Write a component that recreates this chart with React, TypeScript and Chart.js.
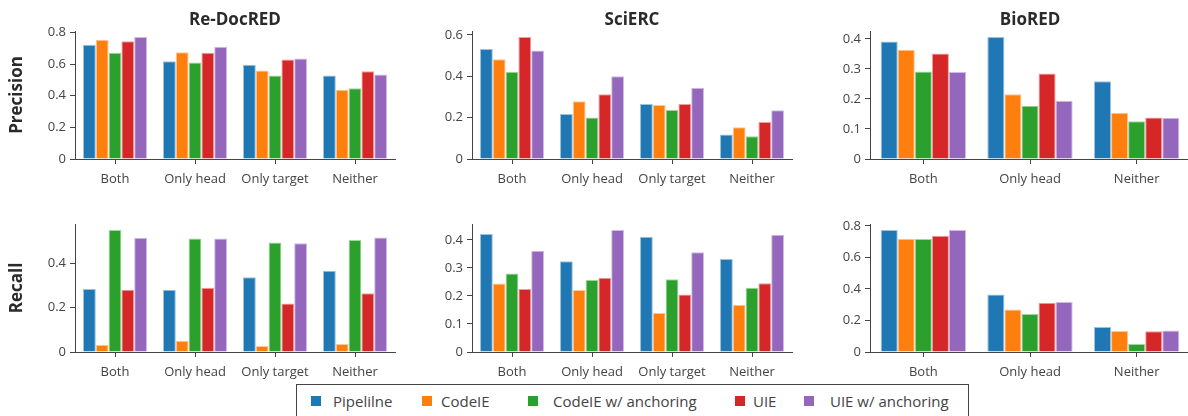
import React, { useEffect, useRef } from 'react';
import { Chart, registerables } from 'chart.js';

Chart.register(...registerables);

// ---------- data ----------
const seriesNames = ['Pipelilne', 'CodeIE', 'CodeIE w/ anchoring', 'UIE', 'UIE w/ anchoring'];
const seriesColors = ['#1f77b4', '#ff7f0e', '#2ca02c', '#d62728', '#9467bd'];

const categoriesFour = ['Both', 'Only head', 'Only target', 'Neither'];
const categoriesThree = ['Both', 'Only head', 'Neither'];

const datasetTitles = ['Re-DocRED', 'SciERC', 'BioRED'];
const metricTitles = ['Precision', 'Recall'];

// rows: series (Pipelilne, CodeIE, CodeIE w/ anchoring, UIE, UIE w/ anchoring); columns: categories
const reDocRedPrecision = [
  [0.722, 0.618, 0.595, 0.528],
  [0.754, 0.675, 0.559, 0.437],
  [0.671, 0.610, 0.528, 0.447],
  [0.743, 0.671, 0.629, 0.555],
  [0.770, 0.709, 0.635, 0.534],
];
const sciErcPrecision = [
  [0.532, 0.218, 0.266, 0.118],
  [0.482, 0.279, 0.261, 0.153],
  [0.421, 0.200, 0.237, 0.110],
  [0.589, 0.313, 0.266, 0.179],
  [0.524, 0.400, 0.344, 0.235],
];
const bioRedPrecision = [
  [0.391, 0.406, 0.259],
  [0.364, 0.216, 0.154],
  [0.291, 0.177, 0.126],
  [0.351, 0.285, 0.138],
  [0.290, 0.194, 0.137],
];
const reDocRedRecall = [
  [0.285, 0.281, 0.338, 0.367],
  [0.032, 0.051, 0.027, 0.036],
  [0.551, 0.513, 0.495, 0.506],
  [0.281, 0.290, 0.219, 0.266],
  [0.516, 0.513, 0.491, 0.518],
];
const sciErcRecall = [
  [0.421, 0.324, 0.411, 0.332],
  [0.244, 0.221, 0.139, 0.169],
  [0.280, 0.257, 0.260, 0.229],
  [0.225, 0.265, 0.205, 0.245],
  [0.361, 0.435, 0.356, 0.418],
];
const bioRedRecall = [
  [0.773, 0.365, 0.158],
  [0.718, 0.270, 0.133],
  [0.716, 0.241, 0.051],
  [0.737, 0.312, 0.131],
  [0.773, 0.317, 0.137],
];

const yTickSteps = [
  [0.2, 0.2, 0.1],
  [0.2, 0.1, 0.2],
];

// ---------- layout ----------
const COL_LEFT = [75, 472, 870];
const ROW_TOP = [31, 224];
const PLOT_W = 320;
const PLOT_H = 128;
const Y_AXIS_W = 75;
const X_AXIS_H = 30;
const PAD_R = 4;
const CANVAS_W = Y_AXIS_W + PLOT_W + PAD_R;
const CANVAS_H = 31 + PLOT_H + X_AXIS_H;

const AXIS_COLOR = '#444';
const TEXT_COLOR = '#444';
const TITLE_COLOR = '#2a2a2a';
const FONT = "'Open Sans', sans-serif";
const TITLE_SIZE = 17;

Chart.defaults.font.family = FONT;

function tint(hex: string, f: number) {
  const n = parseInt(hex.slice(1), 16);
  const r = (n >> 16) & 255, g = (n >> 8) & 255, b = n & 255;
  const m = (c: number) => Math.round(c + (255 - c) * f);
  return `rgb(${m(r)},${m(g)},${m(b)})`;
}

const panels = [
  { row: 0, col: 0, categories: categoriesFour, values: reDocRedPrecision },
  { row: 0, col: 1, categories: categoriesFour, values: sciErcPrecision },
  { row: 0, col: 2, categories: categoriesThree, values: bioRedPrecision },
  { row: 1, col: 0, categories: categoriesFour, values: reDocRedRecall },
  { row: 1, col: 1, categories: categoriesFour, values: sciErcRecall },
  { row: 1, col: 2, categories: categoriesThree, values: bioRedRecall },
];

function makeConfig(p: typeof panels[number]): any {
  const maxVal = Math.max(...p.values.flat());
  const step = yTickSteps[p.row][p.col];
  const hasTitle = p.row === 0;
  const titleLine = TITLE_SIZE * 1.2;
  return {
    type: 'bar',
    data: {
      labels: p.categories,
      datasets: p.values.map((vals, i) => ({
        label: seriesNames[i],
        data: vals,
        backgroundColor: seriesColors[i],
        borderColor: tint(seriesColors[i], 0.55),
        borderWidth: 1,
        barPercentage: 1,
        categoryPercentage: 0.8,
      })),
    },
    options: {
      responsive: false,
      animation: false,
      devicePixelRatio: 1,
      layout: { padding: { top: hasTitle ? 0 : 31, right: PAD_R, bottom: 0, left: 0 } },
      plugins: {
        legend: { display: false },
        tooltip: { enabled: false },
        title: {
          display: hasTitle,
          fullSize: false,
          text: datasetTitles[p.col],
          color: TITLE_COLOR,
          font: { family: FONT, size: TITLE_SIZE, weight: 'bold', lineHeight: 1.2 },
          padding: { top: 10, bottom: 31 - 10 - titleLine },
        },
      },
      scales: {
        x: {
          ticks: { color: TEXT_COLOR, font: { family: FONT, size: 13 }, padding: 7, autoSkip: false, maxRotation: 0 },
          grid: { drawOnChartArea: false, offset: false, tickLength: 5, color: AXIS_COLOR },
          border: { display: true, color: AXIS_COLOR, width: 1 },
          afterFit: (s: any) => { s.height = X_AXIS_H; },
        },
        y: {
          min: 0,
          max: maxVal * 1.05,
          ticks: {
            stepSize: step,
            includeBounds: false,
            color: TEXT_COLOR,
            font: { family: FONT, size: 13 },
            padding: 4,
            callback: (v: number) => (Math.abs(v) < 1e-9 ? '0' : v.toFixed(1)),
          },
          grid: { drawOnChartArea: false, tickLength: 5, color: AXIS_COLOR },
          border: { display: true, color: AXIS_COLOR, width: 1 },
          title: {
            display: p.col === 0,
            text: metricTitles[p.row],
            color: TITLE_COLOR,
            font: { family: FONT, size: TITLE_SIZE, weight: 'bold', lineHeight: 1.2 },
            padding: { top: 17.5 - titleLine / 2, bottom: 0 },
          },
          afterFit: (s: any) => { s.width = Y_AXIS_W; },
        },
      },
    },
  };
}

// legend geometry (page coordinates)
const LEGEND_BOX = { left: 296, top: 384, width: 673, height: 40 };
const legendSquareLeft = [311, 422, 528, 735, 804];
const legendTextLeft = [333, 441, 553, 753, 830];

export default function App() {
  const refs = useRef<(HTMLCanvasElement | null)[]>([]);

  useEffect(() => {
    const charts = panels.map((p, i) => new Chart(refs.current[i] as HTMLCanvasElement, makeConfig(p)));
    return () => charts.forEach((c) => c.destroy());
  }, []);

  return (
    <div
      style={{
        position: 'absolute',
        left: 0,
        top: 0,
        width: 1188,
        height: 416,
        overflow: 'hidden',
        background: '#fff',
        fontFamily: FONT,
      }}
    >
      {panels.map((p, i) => (
        <canvas
          key={i}
          ref={(el) => { refs.current[i] = el; }}
          width={CANVAS_W}
          height={CANVAS_H}
          style={{
            position: 'absolute',
            left: COL_LEFT[p.col] - Y_AXIS_W,
            top: ROW_TOP[p.row] - 31,
            width: CANVAS_W,
            height: CANVAS_H,
          }}
        />
      ))}
      <div
        style={{
          position: 'absolute',
          left: LEGEND_BOX.left,
          top: LEGEND_BOX.top,
          width: LEGEND_BOX.width,
          height: LEGEND_BOX.height,
          border: `1px solid ${AXIS_COLOR}`,
          boxSizing: 'border-box',
        }}
      />
      {seriesNames.map((name, i) => (
        <React.Fragment key={name}>
          <div
            style={{
              position: 'absolute',
              left: legendSquareLeft[i],
              top: 396,
              width: 10,
              height: 10,
              background: seriesColors[i],
            }}
          />
          <div
            style={{
              position: 'absolute',
              left: legendTextLeft[i],
              top: 391,
              height: 20,
              lineHeight: '20px',
              fontSize: 15,
              color: TEXT_COLOR,
              whiteSpace: 'nowrap',
            }}
          >
            {name}
          </div>
        </React.Fragment>
      ))}
    </div>
  );
}
